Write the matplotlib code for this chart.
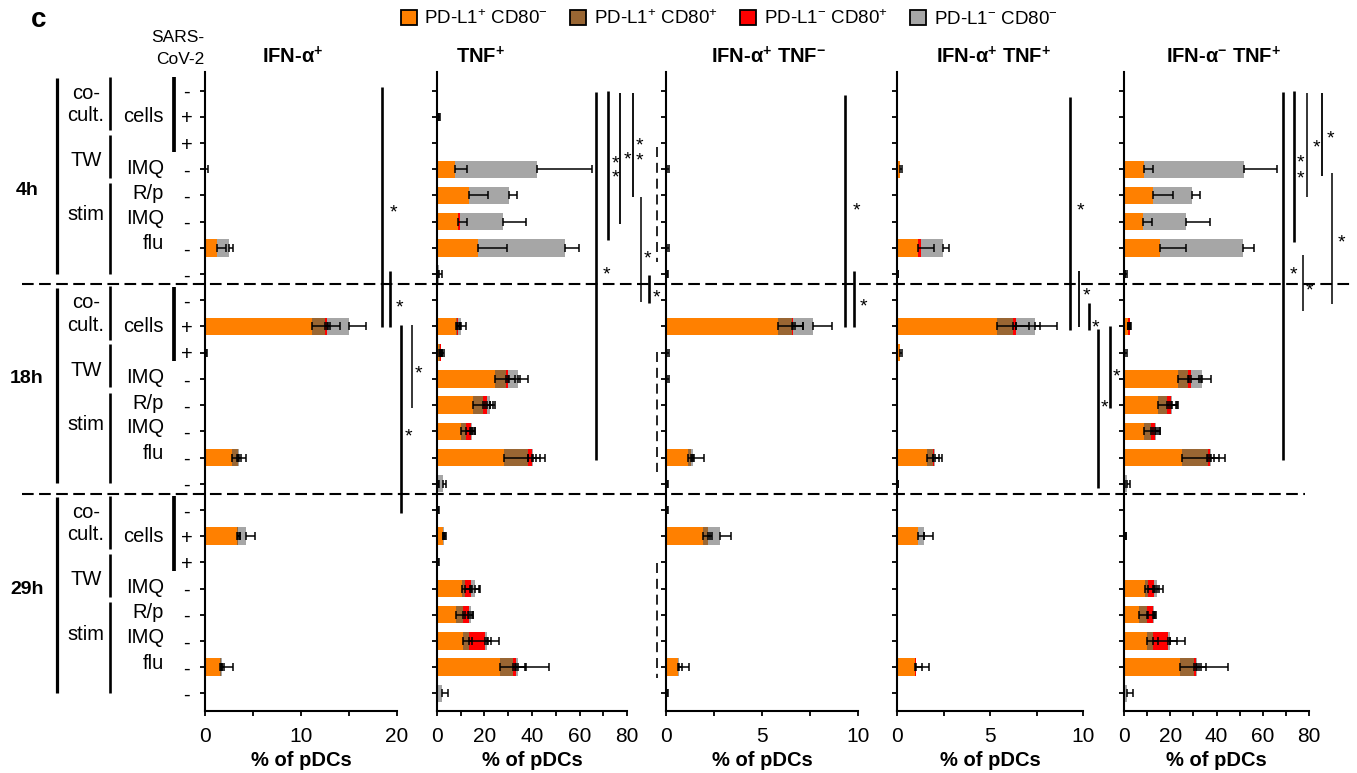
import matplotlib
matplotlib.use("Agg")
import matplotlib.pyplot as plt
import numpy as np
from matplotlib.patches import Patch

plt.rcParams['font.family'] = ['Liberation Sans', 'DejaVu Sans']
plt.rcParams['mathtext.fontset'] = 'custom'
plt.rcParams['mathtext.rm'] = 'Liberation Sans'
plt.rcParams['mathtext.bf'] = 'Liberation Sans:bold'
plt.rcParams['mathtext.it'] = 'Liberation Sans:italic'
plt.rcParams['mathtext.sf'] = 'Liberation Sans'

# ---------------- data ----------------
row_signs = ["-", "+", "+", "-", "-", "-", "-", "-"] * 3
series_names = [r"PD-L1$^{+}$ CD80$^{-}$", r"PD-L1$^{+}$ CD80$^{+}$",
                r"PD-L1$^{-}$ CD80$^{+}$", r"PD-L1$^{-}$ CD80$^{-}$"]
series_colors = ["#FF8000", "#996633", "#FF0000", "#A6A6A6"]
panel_titles = [r"IFN-α$^{\mathbf{+}}$", r"TNF$^{\mathbf{+}}$",
                r"IFN-α$^{\mathbf{+}}$ TNF$^{\mathbf{-}}$",
                r"IFN-α$^{\mathbf{+}}$ TNF$^{\mathbf{+}}$",
                r"IFN-α$^{\mathbf{-}}$ TNF$^{\mathbf{+}}$"]

# IFN-a+
ifna_o = [0, 0, 0, 0.05, 0, 0, 1.2, 0,   0, 11.1, 0.1, 0, 0, 0, 2.8, 0,   0, 3.3, 0, 0, 0, 0, 1.6, 0]
ifna_b = [0, 0, 0, 0, 0, 0, 0.05, 0,     0, 1.4, 0, 0, 0, 0, 0.6, 0,      0, 0.15, 0, 0, 0, 0, 0.1, 0]
ifna_r = [0, 0, 0, 0, 0, 0, 0, 0,        0, 0.25, 0, 0, 0, 0, 0, 0,       0, 0, 0, 0, 0, 0, 0, 0]
ifna_g = [0, 0, 0, 0, 0, 0, 1.3, 0,      0, 2.2, 0, 0, 0, 0, 0.1, 0,      0, 0.85, 0, 0, 0, 0, 0.1, 0]
ifna_oe = [0, 0, 0, 0.3, 0, 0, 1.0, 0,   0, 1.7, 0.15, 0, 0, 0, 0.5, 0,   0, 0.3, 0, 0, 0, 0, 0.4, 0]
ifna_be = [0, 0, 0, 0, 0, 0, 0, 0,       0, 1.6, 0, 0, 0, 0, 0.4, 0,      0, 0.2, 0, 0, 0, 0, 0.1, 0]
ifna_re = [0, 0, 0, 0, 0, 0, 0, 0,       0, 0.3, 0, 0, 0, 0, 0, 0,        0, 0, 0, 0, 0, 0, 0, 0]
ifna_ge = [0, 0, 0, 0, 0, 0, 0.4, 0,     0, 1.85, 0, 0, 0, 0, 0.8, 0,     0, 0.9, 0, 0, 0, 0, 1.1, 0]

# TNF+
tnf_o = [0, 0.3, 0, 7.6, 13.6, 9.0, 17.4, 0.2,   0, 8.0, 1.0, 24.4, 15.3, 10.0, 28.2, 0.3,   0, 2.5, 0.3, 10.4, 8.0, 10.8, 26.5, 0]
tnf_b = [0, 0, 0, 0, 0, 0, 0, 0,                 0, 0.6, 0.3, 4.7, 3.9, 2.2, 10.3, 0,         0, 0.2, 0, 1.4, 3.1, 2.8, 5.6, 0]
tnf_r = [0, 0, 0, 0, 0, 0.5, 0, 0,               0, 0.2, 0.2, 0.7, 1.7, 2.1, 1.4, 0,          0, 0, 0, 2.5, 2.5, 6.6, 1.2, 0]
tnf_g = [0, 0.3, 0, 34.4, 16.9, 18.4, 36.5, 0.8, 0, 1.3, 0.3, 4.4, 1.4, 0.5, 0.6, 2.4,        0.5, 0.3, 0, 1.7, 0.7, 1.0, 0.7, 2.2]
tnf_oe = [0, 0.5, 0, 4.9, 8.0, 3.5, 12.0, 0.3,   0, 1.5, 1.0, 6.0, 5.0, 4.0, 10.0, 0.5,       0, 0.6, 0.5, 3.5, 4.0, 4.0, 6.3, 0]
tnf_be = [0, 0, 0, 0, 0, 0, 0, 0,                0, 1.0, 0.8, 3.7, 3.0, 3.0, 3.0, 0,          0, 0.5, 0, 3.0, 2.0, 8.0, 5.0, 0]
tnf_re = [0, 0, 0, 0, 0, 0, 0, 0,                0, 0.8, 0.8, 5.1, 2.5, 1.5, 3.5, 0,          0, 0, 0, 3.5, 1.5, 2.5, 4.0, 0]
tnf_ge = [0, 0.5, 0, 23.1, 3.0, 9.4, 5.9, 1.2,   0, 2.0, 1.0, 4.0, 2.0, 1.2, 5.0, 1.3,        0.5, 0.7, 0, 2.0, 1.0, 5.0, 13.3, 2.5]

# IFN-a+ TNF-
ap_tn_o = [0, 0, 0, 0.05, 0, 0, 0.05, 0.03,  0, 5.85, 0.05, 0.05, 0, 0, 1.16, 0.03,  0.03, 1.93, 0, 0, 0, 0, 0.62, 0.03]
ap_tn_b = [0, 0, 0, 0, 0, 0, 0, 0,           0, 0.7, 0, 0, 0, 0, 0.12, 0,            0, 0.24, 0, 0, 0, 0, 0.03, 0]
ap_tn_r = [0, 0, 0, 0, 0, 0, 0, 0,           0, 0.08, 0, 0, 0, 0, 0, 0,              0, 0, 0, 0, 0, 0, 0, 0]
ap_tn_g = [0, 0, 0, 0, 0, 0, 0, 0,           0, 1.04, 0, 0, 0, 0, 0.11, 0,           0, 0.64, 0, 0, 0, 0, 0.02, 0]
ap_tn_oe = [0, 0, 0, 0.1, 0, 0, 0.1, 0.05,   0, 0.85, 0.1, 0.1, 0, 0, 0.2, 0.05,     0.05, 0.35, 0, 0, 0, 0, 0.2, 0.05]
ap_tn_be = [0, 0, 0, 0, 0, 0, 0, 0,          0, 0.6, 0, 0, 0, 0, 0.2, 0,             0, 0.2, 0, 0, 0, 0, 0, 0]
ap_tn_re = [0, 0, 0, 0, 0, 0, 0, 0,          0, 0.5, 0, 0, 0, 0, 0, 0,               0, 0, 0, 0, 0, 0, 0, 0]
ap_tn_ge = [0, 0, 0, 0, 0, 0, 0, 0,          0, 1.0, 0, 0, 0, 0, 0.6, 0,             0, 0.6, 0, 0, 0, 0, 0.55, 0]

# IFN-a+ TNF+
ap_tp_o = [0, 0, 0, 0.15, 0, 0, 1.15, 0.03,  0, 5.36, 0.15, 0, 0, 0, 1.6, 0.03,  0, 1.15, 0, 0, 0, 0, 0.98, 0]
ap_tp_b = [0, 0, 0, 0, 0, 0, 0, 0,           0, 0.89, 0, 0, 0, 0, 0.35, 0,       0, 0, 0, 0, 0, 0, 0, 0]
ap_tp_r = [0, 0, 0, 0, 0, 0, 0.12, 0,        0, 0.15, 0, 0, 0, 0, 0.03, 0,       0, 0, 0, 0, 0, 0, 0.06, 0]
ap_tp_g = [0, 0, 0, 0, 0, 0, 1.19, 0,        0, 1.02, 0, 0, 0, 0, 0.05, 0,       0, 0.3, 0, 0, 0, 0, 0, 0]
ap_tp_oe = [0, 0, 0, 0.1, 0, 0, 0.85, 0.05,  0, 1.05, 0.1, 0, 0, 0, 0.35, 0.05,  0, 0.3, 0, 0, 0, 0, 0.35, 0]
ap_tp_be = [0, 0, 0, 0, 0, 0, 0, 0,          0, 0.85, 0, 0, 0, 0, 0.3, 0,        0, 0, 0, 0, 0, 0, 0, 0]
ap_tp_re = [0, 0, 0, 0, 0, 0, 0, 0,          0, 1.3, 0, 0, 0, 0, 0, 0,           0, 0, 0, 0, 0, 0, 0, 0]
ap_tp_ge = [0, 0, 0, 0, 0, 0, 0.35, 0,       0, 1.2, 0, 0, 0, 0, 0.4, 0,         0, 0.5, 0, 0, 0, 0, 0.7, 0]

# IFN-a- TNF+
an_tp_o = [0, 0, 0, 8.8, 12.6, 8.3, 15.5, 0.2,   0, 1.8, 0.3, 23.4, 14.8, 8.6, 24.9, 0.1,   0, 0.2, 0, 8.9, 6.5, 10.0, 24.4, 0]
an_tp_b = [0, 0, 0, 0, 0, 0, 0, 0,               0, 0.1, 0, 4.3, 4.0, 2.9, 11.4, 0,         0, 0, 0, 1.5, 3.3, 2.6, 5.8, 0]
an_tp_r = [0, 0, 0, 0, 0, 0, 0, 0,               0, 0.5, 0, 1.2, 1.5, 1.9, 1.1, 0,          0, 0, 0, 2.4, 2.6, 6.5, 1.1, 0]
an_tp_g = [0, 0, 0, 42.9, 17.0, 18.4, 35.9, 0.4, 0, 0.1, 0, 4.8, 0.5, 0.4, 0.4, 1.3,        0, 0.3, 0, 1.6, 0.4, 0.7, 0.4, 1.4]
an_tp_oe = [0, 0, 0, 3.8, 8.7, 3.8, 11.2, 0.3,   0, 1.0, 0.8, 4.5, 4.5, 4.0, 11.0, 0.3,     0, 0.5, 0, 3.5, 4.0, 4.6, 8.0, 0]
an_tp_be = [0, 0, 0, 0, 0, 0, 0, 0,              0, 0.8, 0, 4.7, 3.5, 3.0, 2.5, 0,          0, 0, 0, 3.0, 3.0, 7.2, 5.4, 0]
an_tp_re = [0, 0, 0, 0, 0, 0, 0, 0,              0, 0.8, 0, 4.5, 2.5, 2.0, 3.7, 0,          0, 0, 0, 2.5, 1.0, 3.9, 2.0, 0]
an_tp_ge = [0, 0, 0, 14.5, 3.4, 10.4, 4.8, 0.6,  0, 0, 0, 4.1, 2.5, 1.7, 6.0, 1.2,          0, 0.5, 0, 2.3, 1.0, 6.5, 13.3, 2.3]

panel_values = [
    ([ifna_o, ifna_b, ifna_r, ifna_g], [ifna_oe, ifna_be, ifna_re, ifna_ge]),
    ([tnf_o, tnf_b, tnf_r, tnf_g], [tnf_oe, tnf_be, tnf_re, tnf_ge]),
    ([ap_tn_o, ap_tn_b, ap_tn_r, ap_tn_g], [ap_tn_oe, ap_tn_be, ap_tn_re, ap_tn_ge]),
    ([ap_tp_o, ap_tp_b, ap_tp_r, ap_tp_g], [ap_tp_oe, ap_tp_be, ap_tp_re, ap_tp_ge]),
    ([an_tp_o, an_tp_b, an_tp_r, an_tp_g], [an_tp_oe, an_tp_be, an_tp_re, an_tp_ge]),
]
x_max = [20, 80, 10, 10, 80]
x_ticks = [[0, 5, 10, 15, 20], list(range(0, 81, 10)), [0, 2.5, 5, 7.5, 10],
           [0, 2.5, 5, 7.5, 10], list(range(0, 81, 10))]
x_ticklabels = [["0", "", "10", "", "20"],
                ["0", "", "20", "", "40", "", "60", "", "80"],
                ["0", "", "5", "", "10"], ["0", "", "5", "", "10"],
                ["0", "", "20", "", "40", "", "60", "", "80"]]

# ---------------- layout ----------------
W, H = 1357, 773
fig = plt.figure(figsize=(W / 100, H / 100), dpi=100)
fig.patch.set_facecolor("white")

AX_TOP, AX_BOT = 72, 711
ROW0, DY = 90.7, 26.2
N = 24
rows = np.arange(N)
ylim = ((AX_BOT - ROW0) / DY, (AX_TOP - ROW0) / DY)

def rowpx(r):
    return ROW0 + DY * r

panel_left = [205, 437, 666, 897, 1124]
panel_width = [192, 190, 192, 186, 185]

axes = []
for i in range(5):
    ax = fig.add_axes([panel_left[i] / W, (H - AX_BOT) / H,
                       panel_width[i] / W, (AX_BOT - AX_TOP) / H])
    vals, errs = panel_values[i]
    left = np.zeros(N)
    for v, e, c in zip(vals, errs, series_colors):
        v = np.asarray(v, float)
        e = np.asarray(e, float)
        ax.barh(rows, v, left=left, height=0.66, color=c, linewidth=0, zorder=2)
        ends = left + v
        m = e > 0
        if m.any():
            ax.errorbar(ends[m], rows[m], xerr=[np.zeros(m.sum()), e[m]], fmt='none',
                        ecolor='black', elinewidth=1.1, capsize=2.8, capthick=1.1,
                        zorder=3, clip_on=False)
        left = ends
    ax.set_xlim(0, x_max[i])
    ax.set_ylim(*ylim)
    ax.set_xticks(x_ticks[i])
    ax.set_xticklabels(x_ticklabels[i], fontsize=15)
    ax.set_yticks(rows)
    if i == 0:
        ax.set_yticklabels(row_signs, fontsize=14.5)
        for lab in ax.get_yticklabels():
            lab.set_ha("center")
        ax.tick_params(axis='y', pad=9.5)
    else:
        ax.set_yticklabels([])
    for s in ["top", "right"]:
        ax.spines[s].set_visible(False)
    for s in ["left", "bottom"]:
        ax.spines[s].set_linewidth(1.5)
    ax.tick_params(axis='both', direction='out', length=3.8, width=1.3)
    ax.tick_params(axis='x', pad=7.5)
    ax.set_xlabel("% of pDCs", fontsize=14.5, fontweight='bold', labelpad=4)
    ax.patch.set_alpha(0)
    axes.append(ax)

# overlay for annotations in pixel space
ov = fig.add_axes([0, 0, 1, 1], zorder=10)
ov.set_xlim(0, W)
ov.set_ylim(H, 0)
ov.axis('off')
ov.patch.set_alpha(0)

# panel titles
title_x = [293, 481, 769, 994, 1224]
for t, x in zip(panel_titles, title_x):
    ov.text(x, 57, t, fontsize=14.5, fontweight='bold', ha='center', va='center')

ov.text(39, 20, "c", fontsize=20, fontweight='bold', ha='center', va='center')
ov.text(178, 38, "SARS-", fontsize=12.5, ha='center', va='center')
ov.text(180, 60, "CoV-2", fontsize=12.5, ha='center', va='center')

# legend
handles = [Patch(facecolor=c, edgecolor='black', linewidth=1.3) for c in series_colors]
fig.legend(handles, series_names, ncol=4, loc='center', bbox_to_anchor=(729 / W, 1 - 19 / H),
           frameon=False, fontsize=13.5, handlelength=0.85, handleheight=0.85,
           handletextpad=0.4, columnspacing=1.2)

# time-block labels and condition labels
time_labels = ["4h", "18h", "29h"]
time_rel = [3.8, 3.0, 3.02]
for b in range(3):
    base = 8 * b
    ov.text(27, rowpx(base + time_rel[b]), time_labels[b], fontsize=14, fontweight='bold',
            ha='center', va='center')
    ov.plot([56.5, 56.5], [rowpx(base - 0.48), rowpx(base + 6.98)], color='black', lw=2.3,
            solid_capstyle='butt')
    for r0, r1 in [(-0.53, 1.5), (1.68, 3.32), (3.53, 6.98)]:
        ov.plot([110, 110], [rowpx(base + r0), rowpx(base + r1)], color='black', lw=1.9,
                solid_capstyle='butt')
    ov.plot([174, 174], [rowpx(base - 0.52), rowpx(base + 2.33)], color='black', lw=2.7,
            solid_capstyle='butt')
    for txt, rr in [("co-", 0.1), ("cult.", 0.95), ("TW", 2.67), ("stim", 4.74)]:
        ov.text(86, rowpx(base + rr), txt, fontsize=14.5, ha='center', va='center')
    for txt, rr in [("cells", 1.0), ("IMQ", 2.96), ("R/p", 3.92), ("IMQ", 4.87), ("flu", 5.85)]:
        ov.text(164, rowpx(base + rr), txt, fontsize=14.5, ha='right', va='center')

# horizontal dashed separators
ov.plot([22, 1352], [rowpx(7.36)] * 2, color='black', lw=1.5, linestyle=(0, (5.6, 2.6)))
ov.plot([22, 1305], [rowpx(15.39)] * 2, color='black', lw=1.5, linestyle=(0, (5.6, 2.6)))

# faint vertical dashed segments left of panel 3
for r0, r1 in [(2.15, 6.54), (9.97, 14.55), (18.03, 22.41)]:
    ov.plot([657, 657], [rowpx(r0), rowpx(r1)], color='black', lw=1.2, linestyle=(0, (6, 3.5)))

# significance lines (x px, row start, row end, lw)
sig_lines = [
    (381.5, -0.16, 9.02, 1.9), (390, 6.88, 9.02, 1.9), (401, 8.94, 16.12, 1.9), (412, 8.94, 12.11, 1.1),
    (596, 0.05, 14.1, 1.9), (607.7, 0.01, 5.7, 1.9), (620, 0.09, 5.09, 1.3), (632.7, 0.09, 4.06, 1.3),
    (640.7, 4.06, 8.06, 1.1), (649, 7.03, 8.09, 1.9),
    (845, 0.16, 9.01, 1.9), (854, 6.9, 9.01, 1.9),
    (1070, 0.24, 9.13, 1.9), (1079, 6.9, 9.01, 1.3), (1089, 8.1, 9.13, 1.9), (1097.7, 9.1, 15.16, 1.9),
    (1110, 8.98, 12.11, 1.9),
    (1283, 0.04, 14.1, 1.9), (1294, 0.01, 5.76, 1.9), (1307, 0.08, 4.05, 1.1), (1322, 0.09, 3.26, 1.3),
    (1302.7, 6.27, 8.4, 1.1), (1331.7, 3.14, 8.14, 1.1),
]
stars = [
    (393, 4.4), (399, 8.05), (408, 12.95), (418, 10.58),
    (606, 6.77), (615, 2.53), (615, 3.1), (627, 2.38), (639, 1.88), (639, 2.45), (647, 6.16), (656, 7.68),
    (856.5, 4.36), (863.5, 7.99),
    (1080, 4.36), (1086.5, 7.6), (1095, 8.82), (1104, 11.87), (1116, 10.66),
    (1293, 6.8), (1300.5, 2.52), (1300.5, 3.14), (1316.5, 1.92), (1330, 1.6), (1309, 7.38), (1341, 5.57),
]
for x, r0, r1, lw in sig_lines:
    ov.plot([x, x], [rowpx(r0), rowpx(r1)], color='black', lw=lw, solid_capstyle='butt')
for x, r in stars:
    ov.text(x, rowpx(r) + 11.0, "*", fontsize=14, ha='center', va='baseline')

fig.savefig("out.png", dpi=100)
